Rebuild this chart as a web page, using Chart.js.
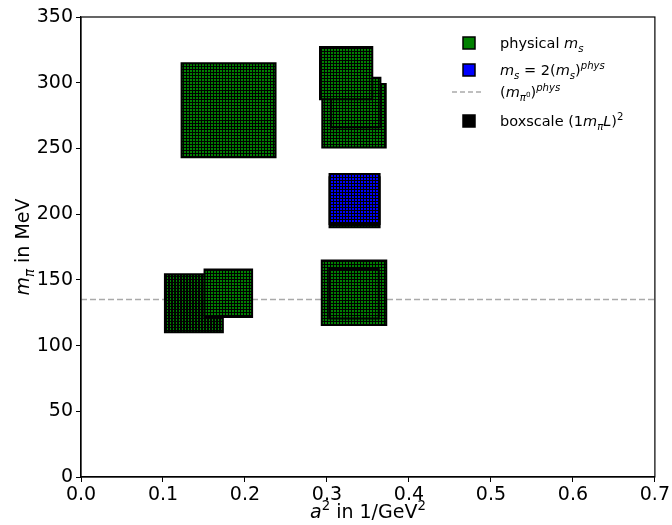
<!DOCTYPE html>
<html>
<head>
<style>
  html, body { margin: 0; padding: 0; background: #fff; }
</style>
</head>
<body>
<canvas id="chart" width="672" height="525"></canvas>
<script src="https://cdn.jsdelivr.net/npm/chart.js"></script>
<script>
  // lattice spacing a^2 (1/GeV^2), pion mass (MeV), box size in MeV (boxscale)
  const physA2  = [0.1377, 0.1797, 0.180, 0.333, 0.333, 0.3337, 0.333, 0.335, 0.3234];
  const physMpi = [132.2, 139.8, 279.0, 140.1, 139.4, 209.0, 274.8, 285.0, 307.3];
  const physBox = [45.6, 37.7, 73.0, 50.6, 39.2, 39.6, 49.8, 39.2, 41.3];

  const heavyA2  = [0.3337];
  const heavyMpi = [211.5];
  const heavyBox = [39.6];

  const mPi0Phys = 135;
  const xMin = 0, xMax = 0.7, xStep = 0.1;
  const yMin = 0, yMax = 350, yStep = 50;

  const FONT = '"DejaVu Sans", sans-serif';

  // green / blue cells with a black grid on top
  function makePattern(color, w, h, lineW, lineH) {
    const c = document.createElement('canvas');
    c.width = w; c.height = h;
    const g = c.getContext('2d');
    g.fillStyle = color;
    g.fillRect(0, 0, w, h);
    g.fillStyle = '#000';
    g.fillRect(0, 0, lineW, h);
    g.fillRect(0, 0, w, lineH);
    return g.createPattern(c, 'repeat');
  }
  const ctx0 = document.getElementById('chart').getContext('2d');
  const greenPat = makePattern('#008000', 3, 3, 1, 1);
  const darkPat = makePattern('#008000', 3, 3, 2, 1);
  const bluePat = makePattern('#0000ff', 3, 3, 1, 1);

  const toPoints = (xs, ys) => xs.map((x, i) => ({ x, y: ys[i] }));

  // box edge length follows the y scale, so boxes are sized in MeV
  const boxRadius = (sizes) => (ctx) => {
    const s = ctx.chart.scales.y;
    if (!s) return 5;
    const px = Math.abs(s.getPixelForValue(0) - s.getPixelForValue(sizes[ctx.dataIndex]));
    return Math.max(px - 2, 1) / Math.SQRT2;
  };

  // draws text pieces with italic / sub / superscript
  function richWidth(ctx, segs, size) {
    let w = 0;
    for (const s of segs) {
      ctx.font = `${s.i ? 'italic ' : ''}${size * (s.s || 1)}px ${FONT}`;
      w += ctx.measureText(s.t).width;
    }
    return w;
  }
  function drawRich(ctx, x, y, segs, size) {
    let cx = x;
    for (const s of segs) {
      ctx.font = `${s.i ? 'italic ' : ''}${size * (s.s || 1)}px ${FONT}`;
      ctx.fillText(s.t, cx, y + (s.dy || 0) * size);
      cx += ctx.measureText(s.t).width;
    }
  }

  const SUB = { s: 0.7, dy: 0.25 };
  const SUP = { s: 0.7, dy: -0.42 };

  const legendRows = [
    { kind: 'box', fill: '#008000', segs: [{ t: 'physical ' }, { t: 'm', i: true }, { t: 's', i: true, ...SUB }] },
    { kind: 'box', fill: '#0000ff', segs: [{ t: 'm', i: true }, { t: 's', i: true, ...SUB }, { t: ' = 2(' },
        { t: 'm', i: true }, { t: 's', i: true, ...SUB }, { t: ')' }, { t: 'phys', i: true, ...SUP }] },
    { kind: 'dash', segs: [{ t: '(' }, { t: 'm', i: true }, { t: 'π', i: true, ...SUB },
        { t: '0', s: 0.5, dy: -0.02 }, { t: ')' }, { t: 'phys', i: true, ...SUP }] },
    { kind: 'box', fill: '#000', segs: [{ t: 'boxscale (1' }, { t: 'm', i: true }, { t: 'π', i: true, ...SUB },
        { t: 'L', i: true }, { t: ')' }, { t: '2', ...SUP }] },
  ];

  const decorPlugin = {
    id: 'decor',
    afterDraw(chart) {
      const ctx = chart.ctx;
      const a = chart.chartArea;
      ctx.save();
      // frame
      ctx.strokeStyle = '#000';
      ctx.lineWidth = 1.2;
      ctx.strokeRect(a.left, a.top, a.right - a.left, a.bottom - a.top);

      ctx.fillStyle = '#000';
      ctx.textBaseline = 'alphabetic';

      // x title
      const xt = [{ t: 'a', i: true }, { t: '2', ...SUP }, { t: ' in 1/GeV' }, { t: '2', ...SUP }];
      const xw = richWidth(ctx, xt, 19);
      drawRich(ctx, (a.left + a.right) / 2 - xw / 2, 518, xt, 19);

      // y title
      const yt = [{ t: 'm', i: true }, { t: 'π', i: true, ...SUB }, { t: ' in MeV' }];
      const yw = richWidth(ctx, yt, 19);
      ctx.save();
      ctx.translate(29, (a.top + a.bottom) / 2);
      ctx.rotate(-Math.PI / 2);
      drawRich(ctx, -yw / 2, 0, yt, 19);
      ctx.restore();

      // legend
      const rowsY = [43, 70, 92, 121];
      legendRows.forEach((r, i) => {
        const cy = rowsY[i];
        if (r.kind === 'box') {
          ctx.fillStyle = r.fill;
          ctx.fillRect(463, cy - 6, 12, 12);
          ctx.strokeStyle = '#000';
          ctx.lineWidth = 1.5;
          ctx.strokeRect(463, cy - 6, 12, 12);
        } else {
          ctx.strokeStyle = '#aaaaaa';
          ctx.lineWidth = 1.5;
          ctx.setLineDash([5, 3]);
          ctx.beginPath();
          ctx.moveTo(452, cy);
          ctx.lineTo(483, cy);
          ctx.stroke();
          ctx.setLineDash([]);
        }
        ctx.fillStyle = '#000';
        drawRich(ctx, 500, cy + 5, r.segs, 14.5);
      });
      ctx.restore();
    }
  };

  const tickFont = { family: FONT, size: 19 };

  new Chart(ctx0, {
    type: 'scatter',
    data: {
      datasets: [
        {
          label: 'm_s = 2(m_s)^phys',
          data: toPoints(heavyA2, heavyMpi),
          pointStyle: 'rect',
          pointRadius: boxRadius(heavyBox),
          pointHoverRadius: boxRadius(heavyBox),
          backgroundColor: bluePat,
          borderColor: '#000',
          borderWidth: 2,
        },
        {
          label: 'physical m_s',
          data: toPoints(physA2, physMpi),
          pointStyle: 'rect',
          pointRadius: boxRadius(physBox),
          pointHoverRadius: boxRadius(physBox),
          backgroundColor: (c) => c.dataIndex === 0 ? darkPat : greenPat,
          borderColor: '#000',
          borderWidth: 2,
        },
        {
          type: 'line',
          label: '(m_pi0)^phys',
          data: [{ x: xMin, y: mPi0Phys }, { x: xMax, y: mPi0Phys }],
          borderColor: '#aaaaaa',
          borderDash: [6, 3],
          borderWidth: 1.5,
          pointRadius: 0,
          fill: false,
        },
      ],
    },
    options: {
      responsive: false,
      animation: false,
      devicePixelRatio: 1,
      layout: { padding: { top: 17, right: 16, left: 0, bottom: 0 } },
      plugins: { legend: { display: false }, tooltip: { enabled: false } },
      scales: {
        x: {
          type: 'linear',
          min: xMin,
          max: xMax,
          ticks: { stepSize: xStep, color: '#000', font: tickFont, padding: 2, maxRotation: 0,
                   callback: (v) => v.toFixed(1) },
          grid: { drawOnChartArea: false, drawTicks: true, tickLength: 5, color: '#000' },
          border: { display: true, color: '#000', width: 1.2 },
          afterFit: (s) => { s.height = 48; },
        },
        y: {
          min: yMin,
          max: yMax,
          ticks: { stepSize: yStep, color: '#000', font: tickFont, padding: 3 },
          grid: { drawOnChartArea: false, drawTicks: true, tickLength: 5, color: '#000' },
          border: { display: true, color: '#000', width: 1.2 },
          afterFit: (s) => { s.width = 81; },
        },
      },
    },
    plugins: [decorPlugin],
  });
</script>
</body>
</html>
